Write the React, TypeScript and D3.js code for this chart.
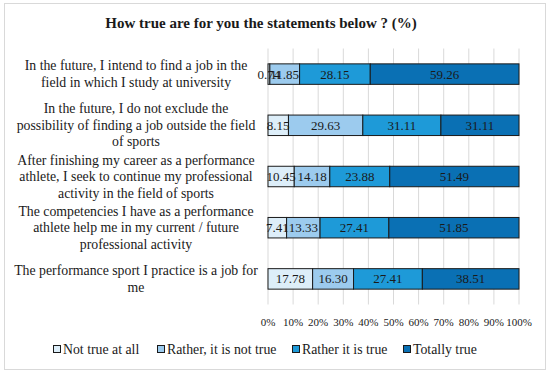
import * as d3 from 'd3';

const categories: string[][] = [
  ['In the future, I intend to find a job in the', 'field in which I study at university'],
  ['In the future, I do not exclude the', 'possibility of finding a job outside the field', 'of sports'],
  ['After finishing my career as a performance', 'athlete, I seek to continue my professional', 'activity in the field of sports'],
  ['The competencies I have as a performance', 'athlete help me in my current / future', 'professional activity'],
  ['The performance sport I practice is a job for', 'me'],
];

const seriesNames = ['Not true at all', 'Rather, it is not true', 'Rather it is true', 'Totally true'];
const notTrue = [0.74, 8.15, 10.45, 7.41, 17.78];
const ratherNot = [11.85, 29.63, 14.18, 13.33, 16.3];
const ratherTrue = [28.15, 31.11, 23.88, 27.41, 27.41];
const totallyTrue = [59.26, 31.11, 51.49, 51.85, 38.51];
const xTicks = [0, 10, 20, 30, 40, 50, 60, 70, 80, 90, 100];

const colors = ['#ddeef9', '#9ccbee', '#1e9ad8', '#0a70b4'];
const legendX = [53, 157, 292, 403];

const font = { fontFamily: 'Liberation Serif' };

export default function App() {
  const width = 550;
  const height = 374;
  const series = [notTrue, ratherNot, ratherTrue, totallyTrue];
  const keys = categories.map((c) => c.join(' '));

  const x = d3.scaleLinear().domain([0, 100]).range([268, 519]);
  const y = d3
    .scaleBand<string>()
    .domain(keys)
    .range([48.5, 304.5])
    .paddingInner(0.6)
    .paddingOuter(0.3);

  const rows = keys.map((k, i) => {
    let acc = 0;
    return series.map((s, j) => {
      const x0 = acc;
      acc += s[i];
      return { key: k, j, x0, x1: acc, v: s[i] };
    });
  });

  const lineH = 16.5;

  return (
    <svg width={width} height={height} style={{ position: 'absolute', left: 0, top: 0, background: '#fff' }}>
      <rect x={4.5} y={3.5} width={541} height={366} fill="#fff" stroke="#d9d9d9" />
      <text x={261} y={28} textAnchor="middle" fontWeight="bold" fontSize={15} fill="#1a1a1a" style={font}>
        How true are for you the statements below ? (%)
      </text>

      {xTicks.map((t) => (
        <g key={t}>
          <line x1={x(t)} x2={x(t)} y1={48.5} y2={304.5} stroke="#d9d9d9" />
          <text x={x(t)} y={326} textAnchor="middle" fontSize={11} fill="#1a1a1a" style={font}>
            {t}%
          </text>
        </g>
      ))}

      {rows.map((segs, i) => {
        const yb = y(keys[i])!;
        const bh = y.bandwidth();
        return (
          <g key={i}>
            {segs.map((d) => (
              <rect
                key={d.j}
                x={x(d.x0)}
                y={yb}
                width={x(d.x1) - x(d.x0)}
                height={bh}
                fill={colors[d.j]}
                stroke="#1a1a1a"
                strokeWidth={1}
              />
            ))}
            {segs.map((d) => (
              <text
                key={'t' + d.j}
                x={(x(d.x0) + x(d.x1)) / 2}
                y={yb + bh / 2 + 4.5}
                textAnchor="middle"
                fontSize={13}
                fill="#1a1a1a"
                style={font}
              >
                {d.v.toFixed(2)}
              </text>
            ))}
            {categories[i].map((line, li) => (
              <text
                key={'l' + li}
                x={136}
                y={yb + bh / 2 + 4.5 + (li - (categories[i].length - 1) / 2) * lineH}
                textAnchor="middle"
                fontSize={13.8}
                fill="#1a1a1a"
                style={font}
              >
                {line}
              </text>
            ))}
          </g>
        );
      })}

      {seriesNames.map((name, j) => (
        <g key={name}>
          <rect x={legendX[j] + 0.5} y={345.5} width={7} height={7} fill={colors[j]} stroke="#1a1a1a" />
          <text x={legendX[j] + 10} y={353.5} fontSize={13.8} fill="#1a1a1a" style={font}>
            {name}
          </text>
        </g>
      ))}
    </svg>
  );
}
